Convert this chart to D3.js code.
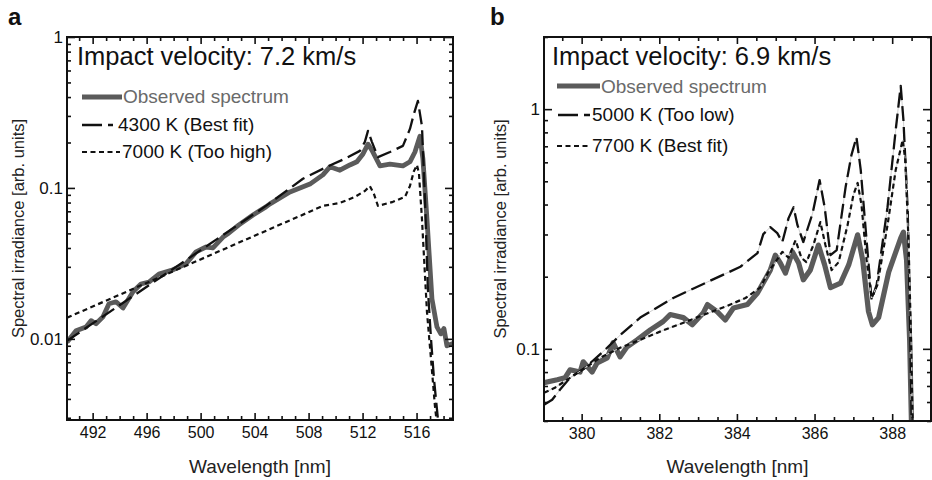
<!DOCTYPE html>
<html>
<head>
<meta charset="utf-8">
<script src="https://cdn.jsdelivr.net/npm/d3@7"></script>
<style>
  body { margin: 0; background: #fff; }
  svg { display: block; font-family: "Liberation Sans", Arial, Helvetica, sans-serif; }
</style>
</head>
<body>
<svg id="chart" width="932" height="480"></svg>
<script>
// ==================== DATA ====================
// panel a — impact velocity 7.2 km/s, [wavelength nm, irradiance]
const obsA = [[490.1,0.0095],[490.77,0.0113],[491.51,0.0120],[491.88,0.0132],[492.25,0.0126],[492.77,0.0140],[493.21,0.0171],[493.73,0.0176],[494.25,0.0160],[494.99,0.0205],[495.58,0.0231],[496.17,0.0238],[496.91,0.0269],[497.95,0.0287],[498.91,0.0314],[499.66,0.0377],[500.40,0.0406],[500.91,0.0400],[501.66,0.0473],[502.10,0.0503],[502.84,0.0569],[503.88,0.0662],[504.84,0.0749],[505.14,0.0784],[506.62,0.0941],[508.10,0.106],[509.06,0.122],[509.58,0.138],[510.32,0.131],[511.06,0.142],[511.58,0.149],[512.03,0.168],[512.40,0.195],[512.69,0.178],[513.29,0.140],[514.03,0.144],[514.99,0.140],[515.51,0.149],[515.88,0.173],[516.25,0.220],[516.47,0.156],[516.77,0.0623],[517.14,0.0184],[517.51,0.0120],[517.80,0.0108],[518.03,0.0117],[518.25,0.0090],[518.69,0.0093]];
const fit4300 = [[490.1,0.0097],[504.84,0.076],[507.58,0.115],[509.36,0.138],[510.69,0.156],[511.80,0.176],[512.17,0.202],[512.40,0.239],[512.69,0.202],[513.14,0.160],[514.03,0.173],[514.99,0.190],[515.51,0.246],[515.80,0.309],[516.10,0.377],[516.40,0.257],[516.62,0.0845],[516.84,0.0214],[517.07,0.0100],[517.29,0.00543],[517.58,0.00296],[517.66,0.00253]];
const fit7000 = [[490.1,0.0138],[509.06,0.076],[510.32,0.0795],[511.43,0.0872],[512.17,0.0955],[512.54,0.103],[512.84,0.0912],[513.14,0.076],[514.25,0.0809],[515.14,0.0872],[515.51,0.103],[515.80,0.129],[516.03,0.142],[516.18,0.124],[516.40,0.0623],[516.77,0.0151],[517.07,0.00737],[517.36,0.0036],[517.51,0.00273]];

// panel b — impact velocity 6.9 km/s
const obsB = [[379.03,0.0722],[379.37,0.0743],[379.57,0.0757],[379.70,0.0818],[379.96,0.0800],[380.04,0.0883],[380.27,0.0800],[380.40,0.0874],[380.66,0.0917],[380.81,0.106],[380.99,0.0926],[381.17,0.102],[381.43,0.109],[381.77,0.120],[382.10,0.130],[382.28,0.139],[382.62,0.135],[382.85,0.126],[383.13,0.141],[383.24,0.153],[383.49,0.143],[383.70,0.132],[383.91,0.148],[384.27,0.153],[384.53,0.171],[384.86,0.213],[384.99,0.246],[385.12,0.228],[385.25,0.207],[385.43,0.254],[385.59,0.228],[385.71,0.194],[385.89,0.213],[386.10,0.271],[386.26,0.224],[386.41,0.180],[386.67,0.188],[386.88,0.224],[387.11,0.299],[387.24,0.235],[387.39,0.143],[387.49,0.126],[387.65,0.135],[387.91,0.209],[388.22,0.290],[388.29,0.307],[388.37,0.235],[388.45,0.109],[388.50,0.046]];
const fit5000 = [[379.03,0.0584],[379.24,0.0613],[379.44,0.0675],[379.70,0.0757],[380.09,0.0833],[380.60,0.099],[380.99,0.114],[381.51,0.135],[382.36,0.163],[383.24,0.190],[384.09,0.220],[384.53,0.251],[384.68,0.301],[384.86,0.322],[385.04,0.304],[385.17,0.279],[385.33,0.351],[385.46,0.390],[385.56,0.328],[385.71,0.279],[385.95,0.368],[386.13,0.506],[386.26,0.390],[386.41,0.246],[386.57,0.258],[386.80,0.473],[386.95,0.643],[387.08,0.764],[387.19,0.557],[387.34,0.284],[387.47,0.160],[387.60,0.185],[387.88,0.390],[388.09,0.817],[388.22,1.25],[388.29,0.90],[388.40,0.38],[388.45,0.160],[388.50,0.0506]];
const fit7700 = [[379.03,0.0656],[379.31,0.0688],[379.70,0.0757],[380.09,0.0833],[380.47,0.0917],[380.99,0.101],[381.51,0.109],[382.02,0.118],[382.54,0.127],[383.06,0.137],[383.75,0.151],[384.22,0.163],[384.60,0.180],[384.81,0.209],[384.99,0.230],[385.17,0.254],[385.33,0.240],[385.51,0.284],[385.66,0.240],[385.79,0.230],[385.97,0.271],[386.15,0.338],[386.28,0.271],[386.44,0.213],[386.62,0.230],[386.85,0.328],[387.00,0.438],[387.11,0.492],[387.21,0.398],[387.34,0.235],[387.47,0.163],[387.62,0.185],[387.88,0.328],[388.09,0.557],[388.27,0.743],[388.34,0.613],[388.42,0.284],[388.48,0.12],[388.53,0.046]];

// tick labels
const xTicksA = [492, 496, 500, 504, 508, 512, 516];
const yTicksA = [0.01, 0.1, 1];
const xTicksB = [380, 382, 384, 386, 388];
const yTicksB = [0.1, 1];

const titleA = 'Impact velocity: 7.2 km/s';
const titleB = 'Impact velocity: 6.9 km/s';
const legendA = ['Observed spectrum', '4300 K (Best fit)', '7000 K (Too high)'];
const legendB = ['Observed spectrum', '5000 K (Too low)', '7700 K (Best fit)'];

// ==================== STYLES ====================
const GRAY = '#5b5b5b';
const styles = {
  obs: { stroke: GRAY, width: 4.8, dash: null },
  dash: { stroke: '#111', width: 2.3, dash: '15,6' },
  dot: { stroke: '#111', width: 2.2, dash: '5,3.5' },
};

const svg = d3.select('#chart');

function logMinor(lo, hi) {
  const out = [];
  for (let e = Math.floor(Math.log10(lo)); e <= Math.ceil(Math.log10(hi)); e++) {
    for (let m = 1; m <= 9; m++) {
      const v = m * Math.pow(10, e);
      if (v >= lo && v <= hi) out.push(v);
    }
  }
  return out;
}

function drawPanel(cfg) {
  const { x0, x1, y0, y1 } = cfg.box;
  const x = d3.scaleLinear().domain(cfg.xDomain).range([x0, x1]);
  const y = d3.scaleLog().domain(cfg.yDomain).range([y1, y0]);

  const g = svg.append('g');
  const clipId = 'clip-' + cfg.id;
  svg.append('clipPath').attr('id', clipId)
    .append('rect').attr('x', x0).attr('y', y0).attr('width', x1 - x0).attr('height', y1 - y0);

  const line = d3.line().x((d) => x(d[0])).y((d) => y(d[1]));
  const plot = g.append('g').attr('clip-path', `url(#${clipId})`);

  cfg.series.forEach((s) => {
    const st = styles[s.style];
    if (s.underlay) {
      plot.append('path').attr('d', line(s.data)).attr('fill', 'none')
        .attr('stroke', '#cfcfcf').attr('stroke-width', 1);
    }
    plot.append('path')
      .attr('d', line(s.data))
      .attr('fill', 'none')
      .attr('stroke', st.stroke)
      .attr('stroke-width', s.width || st.width)
      .attr('stroke-dasharray', st.dash)
      .attr('stroke-linejoin', 'round');
  });

  // axes: ticks inward on all four sides
  const minorX = d3.range(Math.ceil(cfg.xDomain[0] / cfg.xMinorStep) * cfg.xMinorStep, cfg.xDomain[1], cfg.xMinorStep)
    .filter((v) => !cfg.xTicks.some((t) => Math.abs(t - v) < 1e-6));
  const minorY = logMinor(cfg.yDomain[0], cfg.yDomain[1]).filter((v) => !cfg.yTicks.includes(v));

  const axisStyle = (sel, fs) => {
    sel.select('.domain').remove();
    sel.selectAll('line').attr('stroke', '#111').attr('stroke-width', 1.6);
    sel.selectAll('text').attr('font-size', fs).attr('fill', '#111')
      .attr('font-family', '"Liberation Sans", Arial, Helvetica, sans-serif');
  };

  g.append('g').attr('transform', `translate(0,${y1})`)
    .call(d3.axisBottom(x).tickValues(cfg.xTicks).tickSize(-7).tickPadding(7).tickFormat(d3.format('d')))
    .call((s) => axisStyle(s, 16));
  g.append('g').attr('transform', `translate(0,${y1})`)
    .call(d3.axisBottom(x).tickValues(minorX).tickSize(-4).tickFormat(''))
    .call((s) => axisStyle(s, 16));
  g.append('g').attr('transform', `translate(0,${y0})`)
    .call(d3.axisTop(x).tickValues(cfg.xTicks).tickSize(-7).tickFormat(''))
    .call((s) => axisStyle(s, 16));
  g.append('g').attr('transform', `translate(0,${y0})`)
    .call(d3.axisTop(x).tickValues(minorX).tickSize(-4).tickFormat(''))
    .call((s) => axisStyle(s, 16));

  g.append('g').attr('transform', `translate(${x0},0)`)
    .call(d3.axisLeft(y).tickValues(cfg.yTicks).tickSize(-8).tickPadding(4).tickFormat((d) => String(d)))
    .call((s) => axisStyle(s, 17));
  g.append('g').attr('transform', `translate(${x0},0)`)
    .call(d3.axisLeft(y).tickValues(minorY).tickSize(-4).tickFormat(''))
    .call((s) => axisStyle(s, 17));
  g.append('g').attr('transform', `translate(${x1},0)`)
    .call(d3.axisRight(y).tickValues(cfg.yTicks).tickSize(-8).tickFormat(''))
    .call((s) => axisStyle(s, 17));
  g.append('g').attr('transform', `translate(${x1},0)`)
    .call(d3.axisRight(y).tickValues(minorY).tickSize(-4).tickFormat(''))
    .call((s) => axisStyle(s, 17));

  g.append('rect')
    .attr('x', x0).attr('y', y0).attr('width', x1 - x0).attr('height', y1 - y0)
    .attr('fill', 'none').attr('stroke', '#111').attr('stroke-width', 2);

  // panel letter
  svg.append('text').attr('x', cfg.letterX).attr('y', 25)
    .attr('font-size', 24).attr('font-weight', 'bold').attr('fill', '#111').text(cfg.id);

  // axis titles
  svg.append('text').attr('x', (x0 + x1) / 2).attr('y', 473)
    .attr('text-anchor', 'middle').attr('font-size', 19).attr('fill', '#222')
    .text('Wavelength [nm]');
  svg.append('text')
    .attr('transform', `translate(${cfg.yTitleX},${(y0 + y1) / 2}) rotate(-90)`)
    .attr('text-anchor', 'middle').attr('font-size', 16.5).attr('fill', '#222')
    .text('Spectral irradiance [arb. units]');

  // in-plot title
  svg.append('text').attr('x', cfg.titleX).attr('y', 65)
    .attr('font-size', 25.5).attr('fill', '#111').text(cfg.title);

  // legend
  cfg.legend.forEach((row, i) => {
    const st = styles[cfg.series[i].style];
    svg.append('line')
      .attr('x1', row.lx1).attr('x2', row.lx2).attr('y1', row.ly).attr('y2', row.ly)
      .attr('stroke', st.stroke).attr('stroke-width', cfg.series[i].width || st.width)
      .attr('stroke-dasharray', i === 1 ? '20,6' : st.dash);
    svg.append('text').attr('x', row.tx).attr('y', row.ty)
      .attr('font-size', 19).attr('fill', i === 0 ? '#6a6a6a' : '#111')
      .text(row.label);
  });
}

drawPanel({
  id: 'a',
  box: { x0: 67, x1: 453, y0: 37, y1: 420 },
  xDomain: [490.1, 518.7],
  yDomain: [0.0029, 1],
  xTicks: xTicksA, yTicks: yTicksA, xMinorStep: 1,
  letterX: 8, yTitleX: 24, titleX: 77, title: titleA,
  series: [
    { data: obsA, style: 'obs' },
    { data: fit4300, style: 'dash' },
    { data: fit7000, style: 'dot' },
  ],
  legend: [
    { label: legendA[0], lx1: 82, lx2: 122, ly: 97, tx: 123, ty: 103 },
    { label: legendA[1], lx1: 82, lx2: 113, ly: 125, tx: 118, ty: 131 },
    { label: legendA[2], lx1: 82, lx2: 120, ly: 152, tx: 122, ty: 158 },
  ],
});

drawPanel({
  id: 'b',
  box: { x0: 544, x1: 931, y0: 37, y1: 421 },
  xDomain: [379.03, 389.0],
  yDomain: [0.05, 2],
  xTicks: xTicksB, yTicks: yTicksB, xMinorStep: 0.5,
  letterX: 490, yTitleX: 506, titleX: 552, title: titleB,
  series: [
    { data: obsB, style: 'obs', width: 5.2 },
    { data: fit5000, style: 'dash', underlay: true },
    { data: fit7700, style: 'dot', underlay: true },
  ],
  legend: [
    { label: legendB[0], lx1: 557, lx2: 600, ly: 86, tx: 601, ty: 93 },
    { label: legendB[1], lx1: 558, lx2: 590, ly: 115, tx: 592, ty: 121 },
    { label: legendB[2], lx1: 557, lx2: 591, ly: 146, tx: 592, ty: 152 },
  ],
});
</script>
</body>
</html>
